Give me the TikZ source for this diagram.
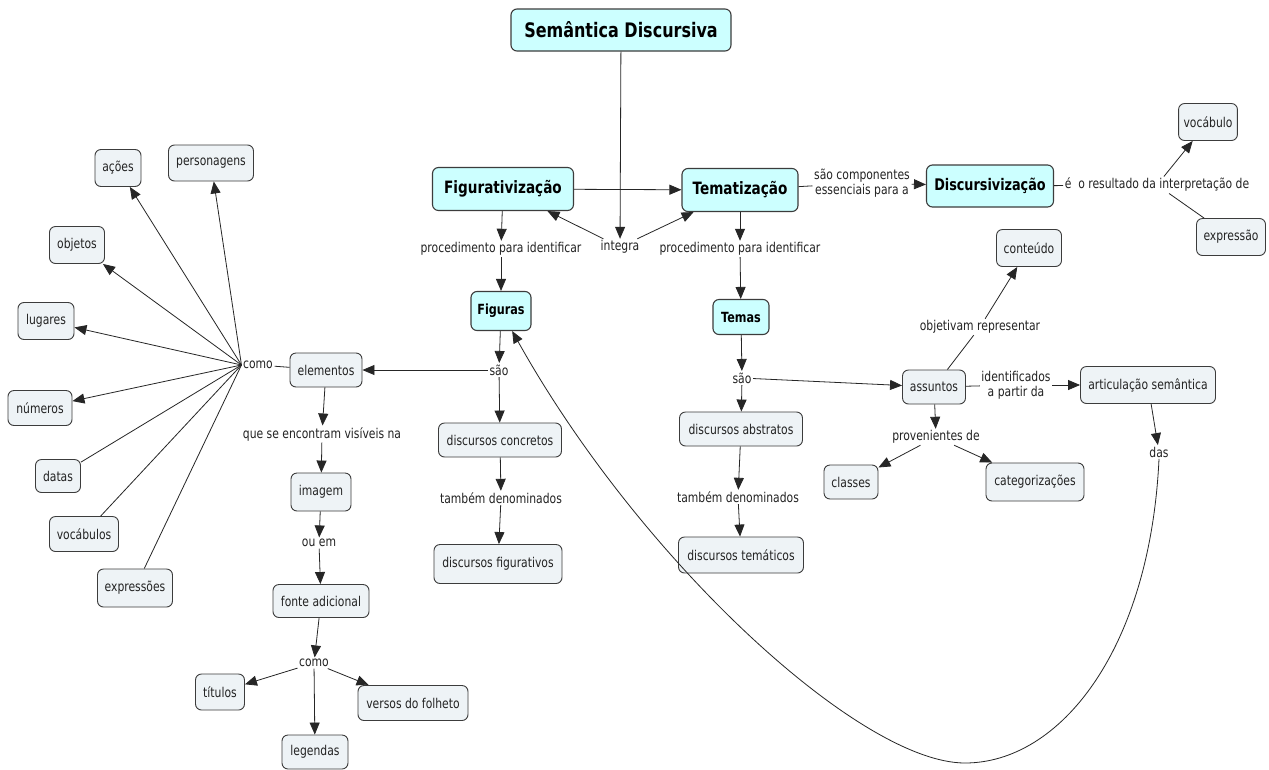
\documentclass[tikz,border=0pt]{standalone}
\usepackage{fontspec}
\setmainfont{DejaVu Sans}[FakeStretch=0.8]
\usetikzlibrary{arrows.meta}
\definecolor{conceptfill}{RGB}{238,243,246}
\definecolor{mainfill}{RGB}{204,255,255}
\definecolor{edgegray}{RGB}{60,60,60}
\definecolor{txt}{RGB}{35,35,35}
\begin{document}
\begin{tikzpicture}[x=1pt,y=-1pt,
  concept/.style={draw=edgegray, fill=conceptfill, rounded corners=6pt, line width=0.9pt,
    inner xsep=5pt, inner ysep=2pt, text=txt, font=\fontsize{13.5}{15}\selectfont},
  mainc/.style={concept, fill=mainfill, line width=1.1pt, text=black},
  sz/.style 2 args={minimum width=#1pt, minimum height=#2pt},
  lbl/.style={inner sep=1.5pt, text=txt, font=\fontsize{13.5}{15}\selectfont, align=center},
  ln/.style={draw=black!85, line width=0.8pt},
  arr/.style={ln, -{Triangle[length=12pt,width=10pt]}},
]
\useasboundingbox (0,0) rectangle (1269,769);
\fill[white] (0,0) rectangle (1269,769);

% main concepts
\node[mainc, sz={220}{42}, font=\bfseries\fontsize{20}{22}\selectfont] (sem) at (621,30) {Semântica Discursiva};
\node[mainc, sz={141}{43}, font=\bfseries\fontsize{17}{19}\selectfont] (fig) at (503,189) {Figurativização};
\node[mainc, sz={116}{43}, font=\bfseries\fontsize{17}{19}\selectfont] (tem) at (740,190) {Tematização};
\node[mainc, sz={127}{42}, font=\bfseries\fontsize{16}{18}\selectfont] (disc) at (990,186) {Discursivização};
\node[mainc, sz={60}{39}, font=\bfseries\fontsize{14}{16}\selectfont] (figuras) at (501,311) {Figuras};
\node[mainc, sz={56}{35}, font=\bfseries\fontsize{14}{16}\selectfont] (temas) at (741,317) {Temas};

% left fan
\node[concept, sz={46}{37}] (acoes) at (118,168) {ações};
\node[concept, sz={85}{36}] (pers) at (211,163) {personagens};
\node[concept, sz={55}{37}] (obj) at (77,245) {objetos};
\node[concept, sz={56}{37}] (lug) at (46,321) {lugares};
\node[concept, sz={64}{35}] (num) at (40,408) {números};
\node[concept, sz={45}{33}] (datas) at (58,476) {datas};
\node[concept, sz={69}{35}] (vocs) at (84,534) {vocábulos};
\node[concept, sz={75}{38}] (expr) at (135,588) {expressões};

% left column
\node[concept, sz={72}{34}] (elem) at (326,370) {elementos};
\node[concept, sz={60}{38}] (imagem) at (321,492) {imagem};
\node[concept, sz={96}{33}] (fonte) at (321,601) {fonte adicional};
\node[concept, sz={49}{36}] (titulos) at (220,692) {títulos};
\node[concept, sz={110}{35}] (versos) at (413,703) {versos do folheto};
\node[concept, sz={66}{34}] (legendas) at (315,752) {legendas};

% figures column
\node[concept, sz={123}{34}] (concretos) at (500,440) {discursos concretos};
\node[concept, sz={128}{39}] (figurativos) at (498,564) {discursos figurativos};

% themes column and right part
\node[concept, sz={123}{34}] (abstratos) at (741,429) {discursos abstratos};
\node[concept, sz={125}{36}] (tematicos) at (741,555) {discursos temáticos};
\node[concept, sz={63}{34}] (assuntos) at (934,387) {assuntos};
\node[concept, sz={65}{37}] (conteudo) at (1029,248) {conteúdo};
\node[concept, sz={135}{37}] (artic) at (1148,385) {articulação semântica};
\node[concept, sz={54}{34}] (classes) at (851,482) {classes};
\node[concept, sz={98}{38}] (categ) at (1035,482) {categorizações};
\node[concept, sz={54}{37}] (vocabulo) at (1208,122) {vocábulo};
\node[concept, sz={69}{37}] (expressao) at (1231,237) {expressão};

% linking phrases
\node[lbl] (proc1) at (501,249) {procedimento para identificar};
\node[lbl] (integra) at (620,247) {integra};
\node[lbl] (proc2) at (740,249) {procedimento para identificar};
\node[lbl] (comp) at (862,183) {são componentes\\essenciais para a};
\node[lbl] (result) at (1157,185) {é~ o resultado da interpretação de};
\node[lbl] (sao1) at (499,370) {são};
\node[lbl] (sao2) at (742,378) {são};
\node[lbl] (como1) at (258,365) {como};
\node[lbl] (visiveis) at (322,434) {que se encontram visíveis na};
\node[lbl] (ouem) at (319,543) {ou em};
\node[lbl] (como2) at (314,663) {como};
\node[lbl] (tambem1) at (501,498) {também denominados};
\node[lbl] (tambem2) at (738,497) {também denominados};
\node[lbl] (objrep) at (980,327) {objetivam representar};
\node[lbl] (ident) at (1016,385) {identificados\\a partir da};
\node[lbl] (prov) at (936,437) {provenientes de};
\node[lbl] (das) at (1159,452) {das};

% connectors: top
\draw[arr] (sem) -- (integra);
\draw[arr] (integra) -- (fig);
\draw[arr] (integra) -- (tem);
\draw[arr] (fig) -- (tem);
\draw[arr] (fig) -- (proc1);
\draw[arr] (proc1) -- (figuras);
\draw[arr] (tem) -- (proc2);
\draw[arr] (proc2) -- (temas);
\draw[ln] (tem) -- (comp);
\draw[arr] (comp) -- (disc);
\draw[ln] (disc) -- (result);
\draw[arr] (result) -- (vocabulo);
\draw[ln] (result) -- (expressao);

% connectors: figures branch
\draw[arr] (figuras) -- (sao1);
\draw[arr] (sao1) -- (elem);
\draw[arr] (sao1) -- (concretos);
\draw[arr] (concretos) -- (tambem1);
\draw[arr] (tambem1) -- (figurativos);
\draw[ln] (elem) -- (como1);
\draw[arr] (como1.west) -- (acoes);
\draw[arr] (como1.west) -- (pers);
\draw[arr] (como1.west) -- (obj);
\draw[arr] (como1.west) -- (lug);
\draw[arr] (como1.west) -- (num);
\draw[ln] (como1.west) -- (datas);
\draw[ln] (como1.west) -- (vocs);
\draw[ln] (como1.west) -- (expr);
\draw[arr] (elem) -- (visiveis);
\draw[arr] (visiveis) -- (imagem);
\draw[arr] (imagem) -- (ouem);
\draw[arr] (ouem) -- (fonte);
\draw[arr] (fonte) -- (como2);
\draw[arr] (como2) -- (titulos);
\draw[arr] (como2) -- (versos);
\draw[arr] (como2) -- (legendas);

% connectors: themes branch
\draw[arr] (temas) -- (sao2);
\draw[arr] (sao2) -- (abstratos);
\draw[arr] (sao2) -- (assuntos);
\draw[arr] (abstratos) -- (tambem2);
\draw[arr] (tambem2) -- (tematicos);
\draw[ln] (assuntos) -- (objrep);
\draw[arr] (objrep) -- (conteudo);
\draw[ln] (assuntos) -- (ident);
\draw[arr] (ident) -- (artic);
\draw[arr] (assuntos) -- (prov);
\draw[arr] (prov) -- (classes);
\draw[arr] (prov) -- (categ);
\draw[arr] (artic) -- (das);
\draw[arr] (das.south) .. controls (1150,650) and (1060,763) .. (965,763)
  .. controls (860,763) and (640,560) .. (figuras);
\end{tikzpicture}
\end{document}
